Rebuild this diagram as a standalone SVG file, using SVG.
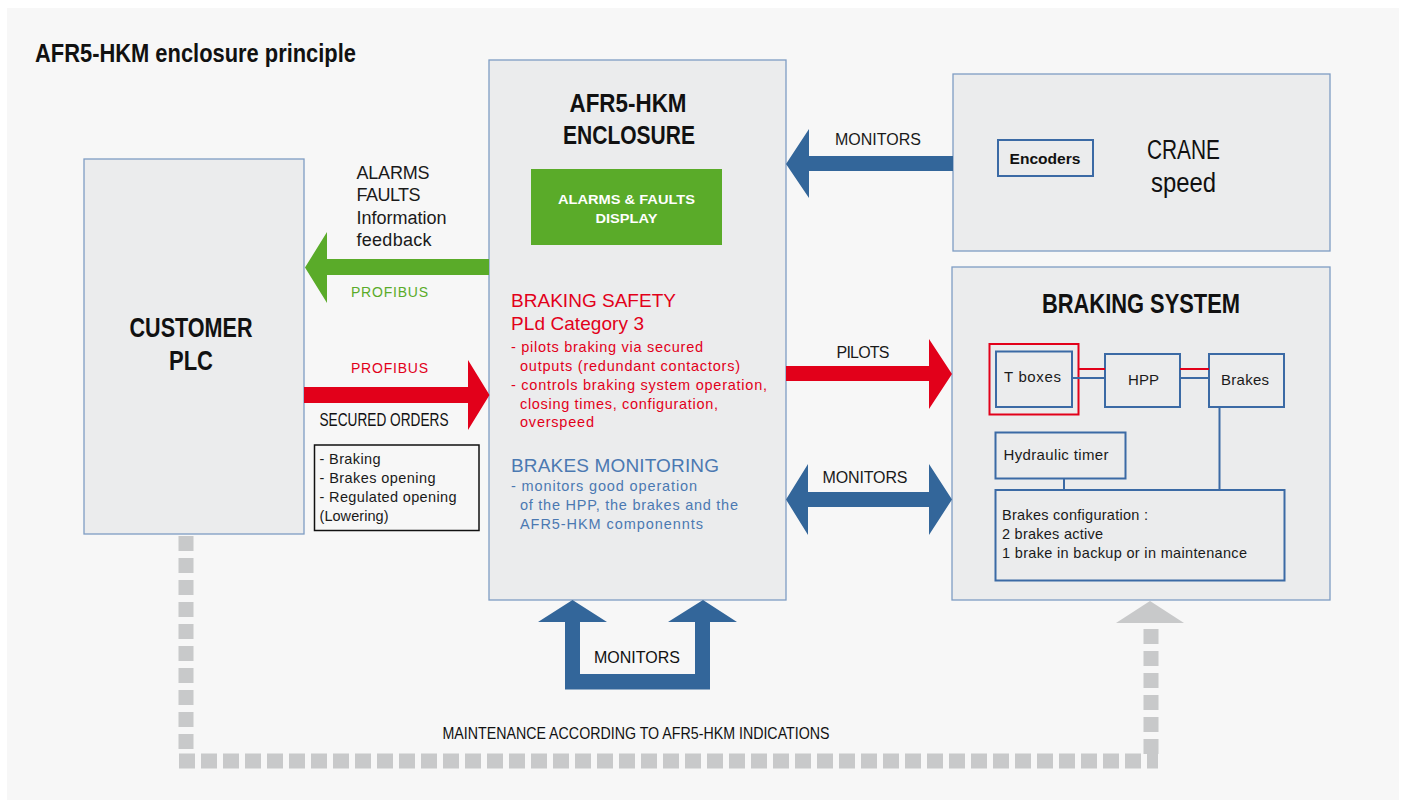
<svg xmlns="http://www.w3.org/2000/svg" width="1403" height="800" viewBox="0 0 1403 800">
<style>
.box{fill:#ebeced;stroke:#7f9dc4;stroke-width:1.3}
.ibox{fill:#ebeced;stroke:#3b6aa5;stroke-width:2}
.cb{font-family:"Liberation Sans Narrow","Liberation Sans",Arial,sans-serif;font-weight:bold;fill:#111}
.cn{font-family:"Liberation Sans Narrow","Liberation Sans",Arial,sans-serif;fill:#111}
.t{font-family:"Liberation Sans",Arial,sans-serif;fill:#1a1a1a}
.red{fill:#e2001a}
.blu{fill:#4b79b2}
.blue-arrow{fill:#33669a}
.red-arrow{fill:#e2001a}
.green-arrow{fill:#5aab29}
.dash{fill:none;stroke:#c8c9ca;stroke-width:15;stroke-dasharray:15 7}
.ln{stroke:#3b6aa5;stroke-width:2;fill:none}
.rl{stroke:#e2001a;stroke-width:2;fill:none}
</style>
<rect x="0" y="0" width="1403" height="800" fill="#ffffff"/>
<rect x="7" y="8" width="1392" height="792" fill="#f7f7f7"/>
<text class="cb" x="35" y="62" font-size="25" textLength="321" lengthAdjust="spacingAndGlyphs">AFR5-HKM enclosure principle</text>

<g id="customer-plc">
<rect class="box" x="84" y="159" width="220" height="375"/>
<text class="cb" x="191" y="337" font-size="27" text-anchor="middle" textLength="123" lengthAdjust="spacingAndGlyphs">CUSTOMER</text>
<text class="cb" x="191" y="370" font-size="27" text-anchor="middle" textLength="44" lengthAdjust="spacingAndGlyphs">PLC</text>
</g>

<g id="enclosure">
<rect class="box" x="489" y="60" width="297" height="540"/>
<text class="cb" x="628" y="112" font-size="26" text-anchor="middle" textLength="117" lengthAdjust="spacingAndGlyphs">AFR5-HKM</text>
<text class="cb" x="629" y="144" font-size="26" text-anchor="middle" textLength="132" lengthAdjust="spacingAndGlyphs">ENCLOSURE</text>
<g id="alarms-display">
<rect x="531" y="169" width="191" height="76" fill="#5aab29"/>
<text class="cb" x="626.5" y="203.5" font-size="13.5" text-anchor="middle" style="fill:#fff" textLength="137" lengthAdjust="spacingAndGlyphs">ALARMS &amp; FAULTS</text>
<text class="cb" x="626.5" y="222.5" font-size="13.5" text-anchor="middle" style="fill:#fff" textLength="62" lengthAdjust="spacingAndGlyphs">DISPLAY</text>
</g>
<text class="t red" x="511" y="307" font-size="19" textLength="165">BRAKING SAFETY</text>
<text class="t red" x="511" y="330" font-size="19" textLength="133">PLd Category 3</text>
<text class="t red" x="511" y="352" font-size="14.5" textLength="192">- pilots braking via secured</text>
<text class="t red" x="520" y="371" font-size="14.5" textLength="220">outputs (redundant contactors)</text>
<text class="t red" x="511" y="389.5" font-size="14.5" textLength="256">- controls braking system operation,</text>
<text class="t red" x="520" y="408.5" font-size="14.5" textLength="198">closing times, configuration,</text>
<text class="t red" x="520" y="427" font-size="14.5" textLength="74">overspeed</text>
<text class="t blu" x="511" y="472" font-size="19" textLength="208">BRAKES MONITORING</text>
<text class="t blu" x="511" y="491" font-size="14.5" textLength="186">- monitors good operation</text>
<text class="t blu" x="520" y="510" font-size="14.5" textLength="218">of the HPP, the brakes and the</text>
<text class="t blu" x="520" y="528.5" font-size="14.5" textLength="183">AFR5-HKM componennts</text>
</g>

<g id="crane">
<rect class="box" x="953" y="74" width="377" height="177"/>
<g id="encoders">
<rect class="ibox" x="998" y="140" width="95" height="36"/>
<text class="cb" x="1045" y="163.5" font-size="15.5" text-anchor="middle" textLength="71" lengthAdjust="spacingAndGlyphs">Encoders</text>
</g>
<text class="cn" x="1183.5" y="159" font-size="27" text-anchor="middle" textLength="73" lengthAdjust="spacingAndGlyphs">CRANE</text>
<text class="cn" x="1183.5" y="191.5" font-size="27" text-anchor="middle" textLength="65" lengthAdjust="spacingAndGlyphs">speed</text>
</g>

<g id="braking-system">
<rect class="box" x="952" y="267" width="378" height="333"/>
<text class="cb" x="1141" y="312.5" font-size="28" text-anchor="middle" textLength="198" lengthAdjust="spacingAndGlyphs">BRAKING SYSTEM</text>
</g>

<g id="tboxes">
<rect x="989.5" y="344" width="89" height="70.5" fill="none" stroke="#e2001a" stroke-width="2"/>
<rect class="ibox" x="996" y="351.5" width="76" height="55.5"/>
<text class="t" x="1004" y="382" font-size="15" textLength="57">T boxes</text>
</g>
<g id="hpp">
<rect class="ibox" x="1105" y="354" width="75" height="53"/>
<text class="t" x="1143.5" y="385" font-size="15" text-anchor="middle" textLength="31">HPP</text>
</g>
<g id="brakes">
<rect class="ibox" x="1209" y="354" width="75" height="53"/>
<text class="t" x="1245" y="385" font-size="15" text-anchor="middle" textLength="48">Brakes</text>
</g>
<g id="hydraulic-timer">
<rect class="ibox" x="995.5" y="432.5" width="130" height="46"/>
<text class="t" x="1003.5" y="460" font-size="15" textLength="105">Hydraulic timer</text>
</g>
<g id="brakes-config">
<rect class="ibox" x="995.5" y="490" width="289" height="90.5"/>
<text class="t" x="1002" y="519.5" font-size="14.5" textLength="146">Brakes configuration :</text>
<text class="t" x="1002" y="538.5" font-size="14.5" textLength="101">2 brakes active</text>
<text class="t" x="1002" y="557.5" font-size="14.5" textLength="245">1 brake in backup or in maintenance</text>
</g>

<g id="orders-list">
<rect x="314.5" y="445" width="164.5" height="85.5" fill="#f7f7f7" stroke="#111" stroke-width="1.5"/>
<text class="t" x="319.5" y="464" font-size="14.5" textLength="61">- Braking</text>
<text class="t" x="319.5" y="483" font-size="14.5" textLength="116">- Brakes opening</text>
<text class="t" x="319.5" y="502" font-size="14.5" textLength="137">- Regulated opening</text>
<text class="t" x="319.5" y="520.5" font-size="14.5" textLength="69">(Lowering)</text>
</g>

<g id="connectors">
<line class="rl" x1="1078.5" y1="369" x2="1105" y2="369"/>
<line class="ln" x1="1072" y1="378" x2="1105" y2="378"/>
<line class="rl" x1="1180" y1="369" x2="1209" y2="369"/>
<line class="ln" x1="1180" y1="378" x2="1209" y2="378"/>
<line class="ln" x1="1219.5" y1="407" x2="1219.5" y2="490"/>
<line class="ln" x1="1064" y1="478.5" x2="1064" y2="490"/>

<polygon class="blue-arrow" points="953,156 809,156 809,129 786,164 809,198 809,171 953,171"/>
<text class="t" x="878" y="144.5" font-size="16" text-anchor="middle" textLength="86">MONITORS</text>

<polygon class="green-arrow" points="489,259 327,259 327,232 305,267.5 327,303 327,275 489,275"/>
<text class="t" x="356.5" y="179" font-size="18" textLength="73">ALARMS</text>
<text class="t" x="356.5" y="201" font-size="18" textLength="64">FAULTS</text>
<text class="t" x="356.5" y="224" font-size="18" textLength="90">Information</text>
<text class="t" x="356.5" y="246" font-size="18" textLength="75">feedback</text>
<text class="t" x="351" y="297" font-size="14" style="fill:#5aab29" textLength="77">PROFIBUS</text>

<polygon class="red-arrow" points="304,387 468,387 468,360 489.5,395 468,430 468,403 304,403"/>
<text class="t" x="351" y="373" font-size="14" style="fill:#e2001a" textLength="77">PROFIBUS</text>
<text class="cn" x="319.5" y="425.5" font-size="18.5" textLength="129" lengthAdjust="spacingAndGlyphs">SECURED ORDERS</text>

<polygon class="red-arrow" points="786,366 929,366 929,339 952,374 929,409 929,381 786,381"/>
<text class="t" x="863" y="357.5" font-size="16" text-anchor="middle" textLength="53">PILOTS</text>

<polygon class="blue-arrow" points="786,499.5 808,464 808,492 929,492 929,464 952,499.5 929,535 929,507 808,507 808,535"/>
<text class="t" x="865" y="482.5" font-size="16" text-anchor="middle" textLength="85">MONITORS</text>

<polygon class="blue-arrow" points="572.5,600 607,622 580,622 580,674 695,674 695,622 668,622 703,600 737,622 710,622 710,689.5 565,689.5 565,622 538,622"/>
<text class="cn" x="637" y="662.5" font-size="17" text-anchor="middle" textLength="86" lengthAdjust="spacingAndGlyphs">MONITORS</text>

<path class="dash" d="M186,536 V753"/>
<path class="dash" d="M179,761 H1158" style="stroke-dasharray:16 6"/>
<path class="dash" d="M1151,754 V623"/>
<polygon points="1116,623 1150,601 1184,623" fill="#c8c9ca"/>
<text class="cn" x="442.5" y="739" font-size="17" textLength="387" lengthAdjust="spacingAndGlyphs">MAINTENANCE ACCORDING TO AFR5-HKM INDICATIONS</text>
</g>
</svg>
